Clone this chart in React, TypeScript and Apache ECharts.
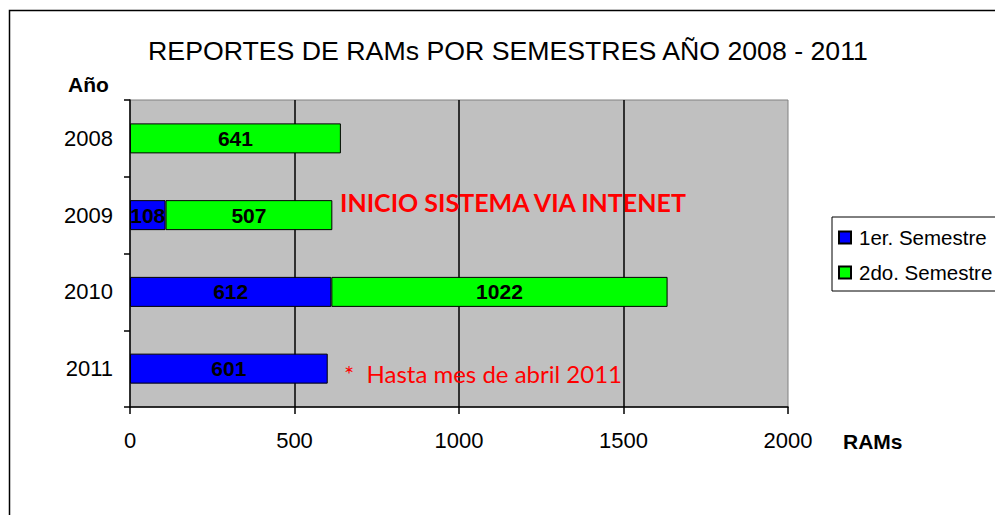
import React, { useEffect, useRef } from "react";
import * as echarts from "echarts";

const years = ["2008", "2009", "2010", "2011"];
const sem1 = [null, 108, 612, 601];
const sem2 = [641, 507, 1022, null];
const seriesNames = ["1er. Semestre", "2do. Semestre"];
const xTicks = { min: 0, max: 2000, interval: 500 };

const SANS = "'Liberation Sans', Arial, sans-serif";
const RED_FONT = "Lato, 'Open Sans', sans-serif";

export default function App() {
  const ref = useRef<HTMLDivElement>(null);
  useEffect(() => {
    if (!ref.current) return;
    const chart = echarts.init(ref.current, undefined, { renderer: "svg" });
    const barLabel = {
      show: true,
      position: "inside",
      color: "#000",
      fontWeight: "bold",
      fontFamily: SANS,
      fontSize: 21,
      formatter: (p: any) => (p.value == null ? "" : String(p.value)),
    };
    chart.setOption({
      animation: false,
      backgroundColor: "#fff",
      title: {
        text: "REPORTES DE RAMs POR SEMESTRES AÑO 2008 - 2011",
        left: 503,
        textAlign: "center",
        top: 32,
        textStyle: { fontFamily: SANS, fontSize: 26.7, fontWeight: "normal", color: "#000" },
      },
      legend: {
        orient: "vertical",
        left: 832,
        top: 217,
        data: seriesNames,
        borderColor: "#000",
        borderWidth: 1,
        padding: [10, 60, 8, 6],
        itemWidth: 12,
        itemHeight: 12,
        itemGap: 14,
        icon: "rect",
        textStyle: { fontFamily: SANS, fontSize: 20.5, lineHeight: 21, color: "#000", padding: [0, 0, 0, 3] },
      },
      grid: { left: 130, top: 100, width: 658, height: 307, show: true, backgroundColor: "#c0c0c0", borderColor: "#808080", borderWidth: 1 },
      xAxis: {
        type: "value",
        min: xTicks.min,
        max: xTicks.max,
        interval: xTicks.interval,
        axisLine: { show: true, lineStyle: { color: "#000", width: 1.5 } },
        axisTick: { show: true, length: 7, lineStyle: { color: "#000", width: 1.5 } },
        axisLabel: { color: "#000", fontFamily: SANS, fontSize: 22, margin: 22, formatter: (v: number) => String(v) },
        splitLine: { show: true, showMinLine: false, showMaxLine: false, lineStyle: { color: "#000", width: 1.5 } },
      },
      yAxis: {
        type: "category",
        inverse: true,
        data: years,
        axisLine: { show: true, lineStyle: { color: "#000", width: 1.5 } },
        axisTick: { show: true, length: 6, alignWithLabel: false, lineStyle: { color: "#000", width: 1.5 } },
        axisLabel: { color: "#000", fontFamily: SANS, fontSize: 22, margin: 17 },
        splitLine: { show: false },
      },
      graphic: [
        { type: "rect", shape: { x: 9.5, y: 10.5, width: 1100, height: 700 }, style: { fill: "none", stroke: "#000", lineWidth: 1.5 }, silent: true, z: -1 },
        { type: "text", x: 68, y: 84, style: { text: "Año", fontFamily: SANS, fontWeight: "bold", fontSize: 21, fill: "#000", verticalAlign: "middle" } },
        { type: "text", x: 843, y: 441, style: { text: "RAMs", fontFamily: SANS, fontWeight: "bold", fontSize: 21, fill: "#000", verticalAlign: "middle" } },
        { type: "text", x: 340, y: 202, z: 10, style: { text: "INICIO SISTEMA VIA INTENET", fontFamily: RED_FONT, fontWeight: "bold", fontSize: 25, fill: "#ff0000", verticalAlign: "middle" } },
        { type: "text", x: 344, y: 373, z: 10, style: { text: "*  Hasta mes de abril 2011", fontFamily: RED_FONT, fontSize: 24, fill: "#ff0000", verticalAlign: "middle" } },
      ],
      series: [
        {
          name: seriesNames[0],
          type: "bar",
          stack: "total",
          barWidth: 30,
          data: sem1,
          itemStyle: { color: "#0000ff", borderColor: "#000", borderWidth: 1 },
          label: barLabel,
        },
        {
          name: seriesNames[1],
          type: "bar",
          stack: "total",
          barWidth: 30,
          data: sem2,
          itemStyle: { color: "#00ff00", borderColor: "#000", borderWidth: 1 },
          label: barLabel,
        },
      ],
    });
    return () => chart.dispose();
  }, []);
  return <div ref={ref} style={{ position: "absolute", left: 0, top: 0, width: 995, height: 515 }} />;
}
